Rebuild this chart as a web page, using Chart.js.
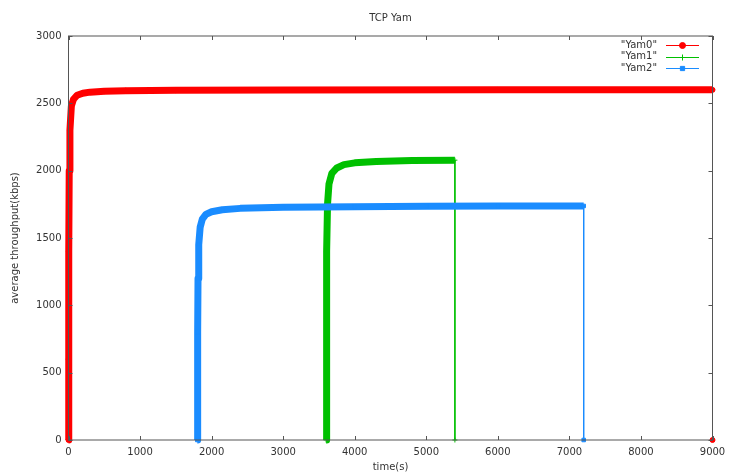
<!DOCTYPE html>
<html lang="en">
<head>
<meta charset="UTF-8">
<title>TCP Yam</title>
<script src="https://cdn.jsdelivr.net/npm/chart.js"></script>
<style>
  html, body { margin: 0; padding: 0; background: #fff; }
  #wrap { width: 729px; height: 475px; }
</style>
</head>
<body>
<div id="wrap"><canvas id="yamChart" width="729" height="475"></canvas></div>
<script>
// average throughput (kbps) against simulation time (s)
const yam0Time = [0, 2, 5, 10, 20, 40, 70, 120, 200, 300, 500, 800, 1500, 3000, 6000, 9000, 9000]
const yam0Rate = [0, 600, 1400, 2000, 2300, 2480, 2530, 2560, 2575, 2583, 2590, 2594, 2597, 2599, 2600, 2600, 0]

const yam1Time = [3600, 3605, 3610, 3620, 3640, 3680, 3750, 3850, 4000, 4300, 4800, 5400, 5400]
const yam1Rate = [0, 900, 1400, 1750, 1900, 1980, 2020, 2045, 2058, 2068, 2075, 2078, 0]

const yam2Time = [1800, 1805, 1810, 1820, 1840, 1870, 1920, 2000, 2150, 2400, 3000, 4000, 5000, 6000, 7200, 7200]
const yam2Rate = [0, 800, 1200, 1450, 1580, 1640, 1675, 1695, 1710, 1720, 1728, 1732, 1735, 1737, 1738, 0]

const seriesNames = ["Yam0", "Yam1", "Yam2"]
const seriesColors = ["#ff0000", "#00c000", "#1a8cff"]
const seriesMarkers = ["circle", "cross", "rect"]

const xTicks = [0, 1000, 2000, 3000, 4000, 5000, 6000, 7000, 8000, 9000]
const yTicks = [0, 500, 1000, 1500, 2000, 2500, 3000]

const FONT = "'DejaVu Sans', sans-serif"
const INK = "#333"
const FRAME = "#555"
const THICK = 7

function toPoints(ts, vs) {
  return ts.map((t, i) => ({ x: t, y: vs[i] }))
}

function makeDataset(i, ts, vs, order) {
  const last = ts.length - 1
  return {
    label: seriesNames[i],
    data: toPoints(ts, vs),
    borderColor: seriesColors[i],
    backgroundColor: seriesColors[i],
    borderWidth: THICK,
    borderJoinStyle: "round",
    borderCapStyle: "butt",
    pointStyle: seriesMarkers[i],
    pointRadius: 2.5,
    pointBorderWidth: 1,
    pointBackgroundColor: seriesColors[i],
    pointBorderColor: seriesColors[i],
    tension: 0,
    clip: 6,
    order: order,
    // the closing drop back to zero is a plain thin line
    segment: {
      borderWidth: (ctx) => (ctx.p1DataIndex === last ? 1 : THICK),
    },
  }
}

// frame, inward tick marks on all four sides and the in-plot key
const gnuFrame = {
  id: "gnuFrame",
  afterDraw(chart) {
    const { ctx, chartArea: a, scales } = chart
    const len = 4
    ctx.save()
    ctx.strokeStyle = FRAME
    ctx.lineWidth = 1
    ctx.strokeRect(a.left, a.top, a.right - a.left, a.bottom - a.top)
    ctx.beginPath()
    for (const v of xTicks) {
      const px = Math.round(scales.x.getPixelForValue(v)) + 0.5
      ctx.moveTo(px, a.bottom); ctx.lineTo(px, a.bottom - len)
      ctx.moveTo(px, a.top); ctx.lineTo(px, a.top + len)
    }
    for (const v of yTicks) {
      const py = Math.round(scales.y.getPixelForValue(v)) + 0.5
      ctx.moveTo(a.left, py); ctx.lineTo(a.left + len, py)
      ctx.moveTo(a.right, py); ctx.lineTo(a.right - len, py)
    }
    ctx.stroke()

    // key
    const textRight = 657
    const lineL = 666
    const lineR = 699
    ctx.font = "10px " + FONT
    ctx.textAlign = "right"
    ctx.textBaseline = "middle"
    chart.data.datasets.forEach((ds, i) => {
      const y = 45 + i * 11.7
      ctx.fillStyle = INK
      ctx.fillText('"' + ds.label + '"', textRight, y)
      ctx.strokeStyle = ds.borderColor
      ctx.lineWidth = 1
      ctx.beginPath()
      ctx.moveTo(lineL, Math.round(y) + 0.5)
      ctx.lineTo(lineR, Math.round(y) + 0.5)
      ctx.stroke()
      ctx.fillStyle = ds.pointBackgroundColor
      Chart.helpers.drawPoint(ctx, { pointStyle: ds.pointStyle, radius: 3, borderWidth: 1, rotation: 0 }, (lineL + lineR) / 2, Math.round(y) + 0.5)
    })
    ctx.restore()
  },
}

const ctx = document.getElementById("yamChart").getContext("2d")
const yamChart = new Chart(ctx, {
  type: "line",
  data: {
    datasets: [
      makeDataset(0, yam0Time, yam0Rate, 2),
      makeDataset(1, yam1Time, yam1Rate, 1),
      makeDataset(2, yam2Time, yam2Rate, 0),
    ],
  },
  options: {
    responsive: false,
    animation: false,
    layout: { padding: 0 },
    plugins: {
      legend: { display: false },
      tooltip: { enabled: false },
      title: {
        display: true,
        text: "TCP Yam",
        fullSize: false,
        color: INK,
        font: { family: FONT, size: 10, weight: "normal" },
        padding: { top: 12, bottom: 12 },
      },
    },
    scales: {
      x: {
        type: "linear",
        min: 0,
        max: 9000,
        afterBuildTicks: (s) => { s.ticks = xTicks.map((v) => ({ value: v })) },
        afterFit: (s) => {
          s.height = 35
          s.paddingLeft = 0
          s.paddingRight = 16.5
        },
        grid: { display: false, drawTicks: false },
        border: { display: false },
        ticks: {
          color: INK,
          font: { family: FONT, size: 10 },
          padding: 6,
          maxRotation: 0,
          autoSkip: false,
          callback: (v) => String(v),
        },
        title: {
          display: true,
          text: "time(s)",
          color: INK,
          font: { family: FONT, size: 10 },
          padding: { top: 0, bottom: 2 },
        },
      },
      y: {
        min: 0,
        max: 3000,
        afterBuildTicks: (s) => { s.ticks = yTicks.map((v) => ({ value: v })) },
        afterFit: (s) => {
          s.width = 68.5
          s.paddingTop = 0
          s.paddingBottom = 0
        },
        grid: { display: false, drawTicks: false },
        border: { display: false },
        ticks: {
          color: INK,
          font: { family: FONT, size: 10 },
          padding: 7,
          callback: (v) => String(v),
        },
        title: {
          display: true,
          text: "average throughput(kbps)",
          color: INK,
          font: { family: FONT, size: 10 },
          padding: { top: 9, bottom: 0 },
        },
      },
    },
  },
  plugins: [gnuFrame],
})
</script>
</body>
</html>
